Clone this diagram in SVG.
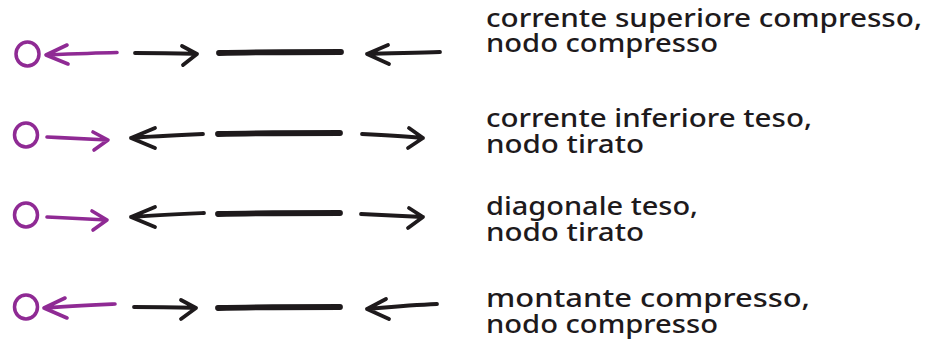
<svg xmlns="http://www.w3.org/2000/svg" width="936" height="349" viewBox="0 0 936 349">
<style>
.p{fill:none;stroke:#8f2a94;stroke-linecap:round;stroke-linejoin:round;stroke-width:3.6}
.k{fill:none;stroke:#1e1a1c;stroke-linecap:round;stroke-linejoin:round;stroke-width:3.8}
.bar{fill:none;stroke:#1e1a1c;stroke-linecap:round;stroke-width:5.8}
.ring{fill:none;stroke:#8f2a94;stroke-width:3.5}
.t{font-family:"Noto Sans","Liberation Sans",sans-serif;font-weight:500;font-size:26px;fill:#1e1a1c}
</style>
<rect width="936" height="349" fill="#ffffff"/>
<g id="row1">
  <ellipse class="ring" cx="27.5" cy="54" rx="11.5" ry="12"/>
  <path class="p" d="M117,52.5 C95,53 70,54 46,55 M67,45 L46,55 L68,64"/>
  <path class="k" d="M135,53 C155,53 180,53 197,54 M182,46 L197,54 L183,65"/>
  <path class="bar" d="M219,53 C260,52 300,52 341,52"/>
  <path class="k" d="M440,52 C415,53 390,53 367,54 M388,45 L367,54 L389,64"/>
  <text class="t"><tspan x="486" y="27" textLength="436" lengthAdjust="spacingAndGlyphs">corrente superiore compresso,</tspan><tspan x="486" y="52" textLength="232" lengthAdjust="spacingAndGlyphs">nodo compresso</tspan></text>
</g>
<g id="row2">
  <ellipse class="ring" cx="26" cy="135" rx="11.5" ry="12"/>
  <path class="p" d="M47,137 C68,138 90,139 108,140 M93,132 L108,140 L94,150"/>
  <path class="k" d="M203,134 C180,135 155,136 131,138 M155,128 L131,138 L155,148"/>
  <path class="bar" d="M218,134 C260,133 300,133 340,133"/>
  <path class="k" d="M362,134 C385,135 405,136 423,138 M409,128 L423,138 L408,148"/>
  <text class="t"><tspan x="486" y="127" textLength="326" lengthAdjust="spacingAndGlyphs">corrente inferiore teso,</tspan><tspan x="486" y="153" textLength="158" lengthAdjust="spacingAndGlyphs">nodo tirato</tspan></text>
</g>
<g id="row3">
  <ellipse class="ring" cx="26" cy="215" rx="11.5" ry="12"/>
  <path class="p" d="M47,217 C68,218 90,219 107,220 M92,211 L107,220 L93,230"/>
  <path class="k" d="M204,213 C180,214 155,215 131,217 M155,207 L131,217 L155,227"/>
  <path class="bar" d="M218,214 C260,213 300,213 340,213"/>
  <path class="k" d="M361,214 C385,215 405,216 423,217 M409,208 L423,217 L408,228"/>
  <text class="t"><tspan x="486" y="215" textLength="212" lengthAdjust="spacingAndGlyphs">diagonale teso,</tspan><tspan x="486" y="241" textLength="158" lengthAdjust="spacingAndGlyphs">nodo tirato</tspan></text>
</g>
<g id="row4">
  <ellipse class="ring" cx="26" cy="307" rx="11.5" ry="12"/>
  <path class="p" d="M115,304 C92,305 68,306 44,308 M65,298 L44,308 L67,318"/>
  <path class="k" d="M134,307 C155,307 178,307 196,308 M181,300 L196,308 L181,319"/>
  <path class="bar" d="M218,308 C260,307 300,307 340,307"/>
  <path class="k" d="M437,304 C412,305 390,307 367,309 M386,299 L367,309 L389,319"/>
  <text class="t"><tspan x="486" y="307" textLength="324" lengthAdjust="spacingAndGlyphs">montante compresso,</tspan><tspan x="486" y="333" textLength="232" lengthAdjust="spacingAndGlyphs">nodo compresso</tspan></text>
</g>
</svg>
